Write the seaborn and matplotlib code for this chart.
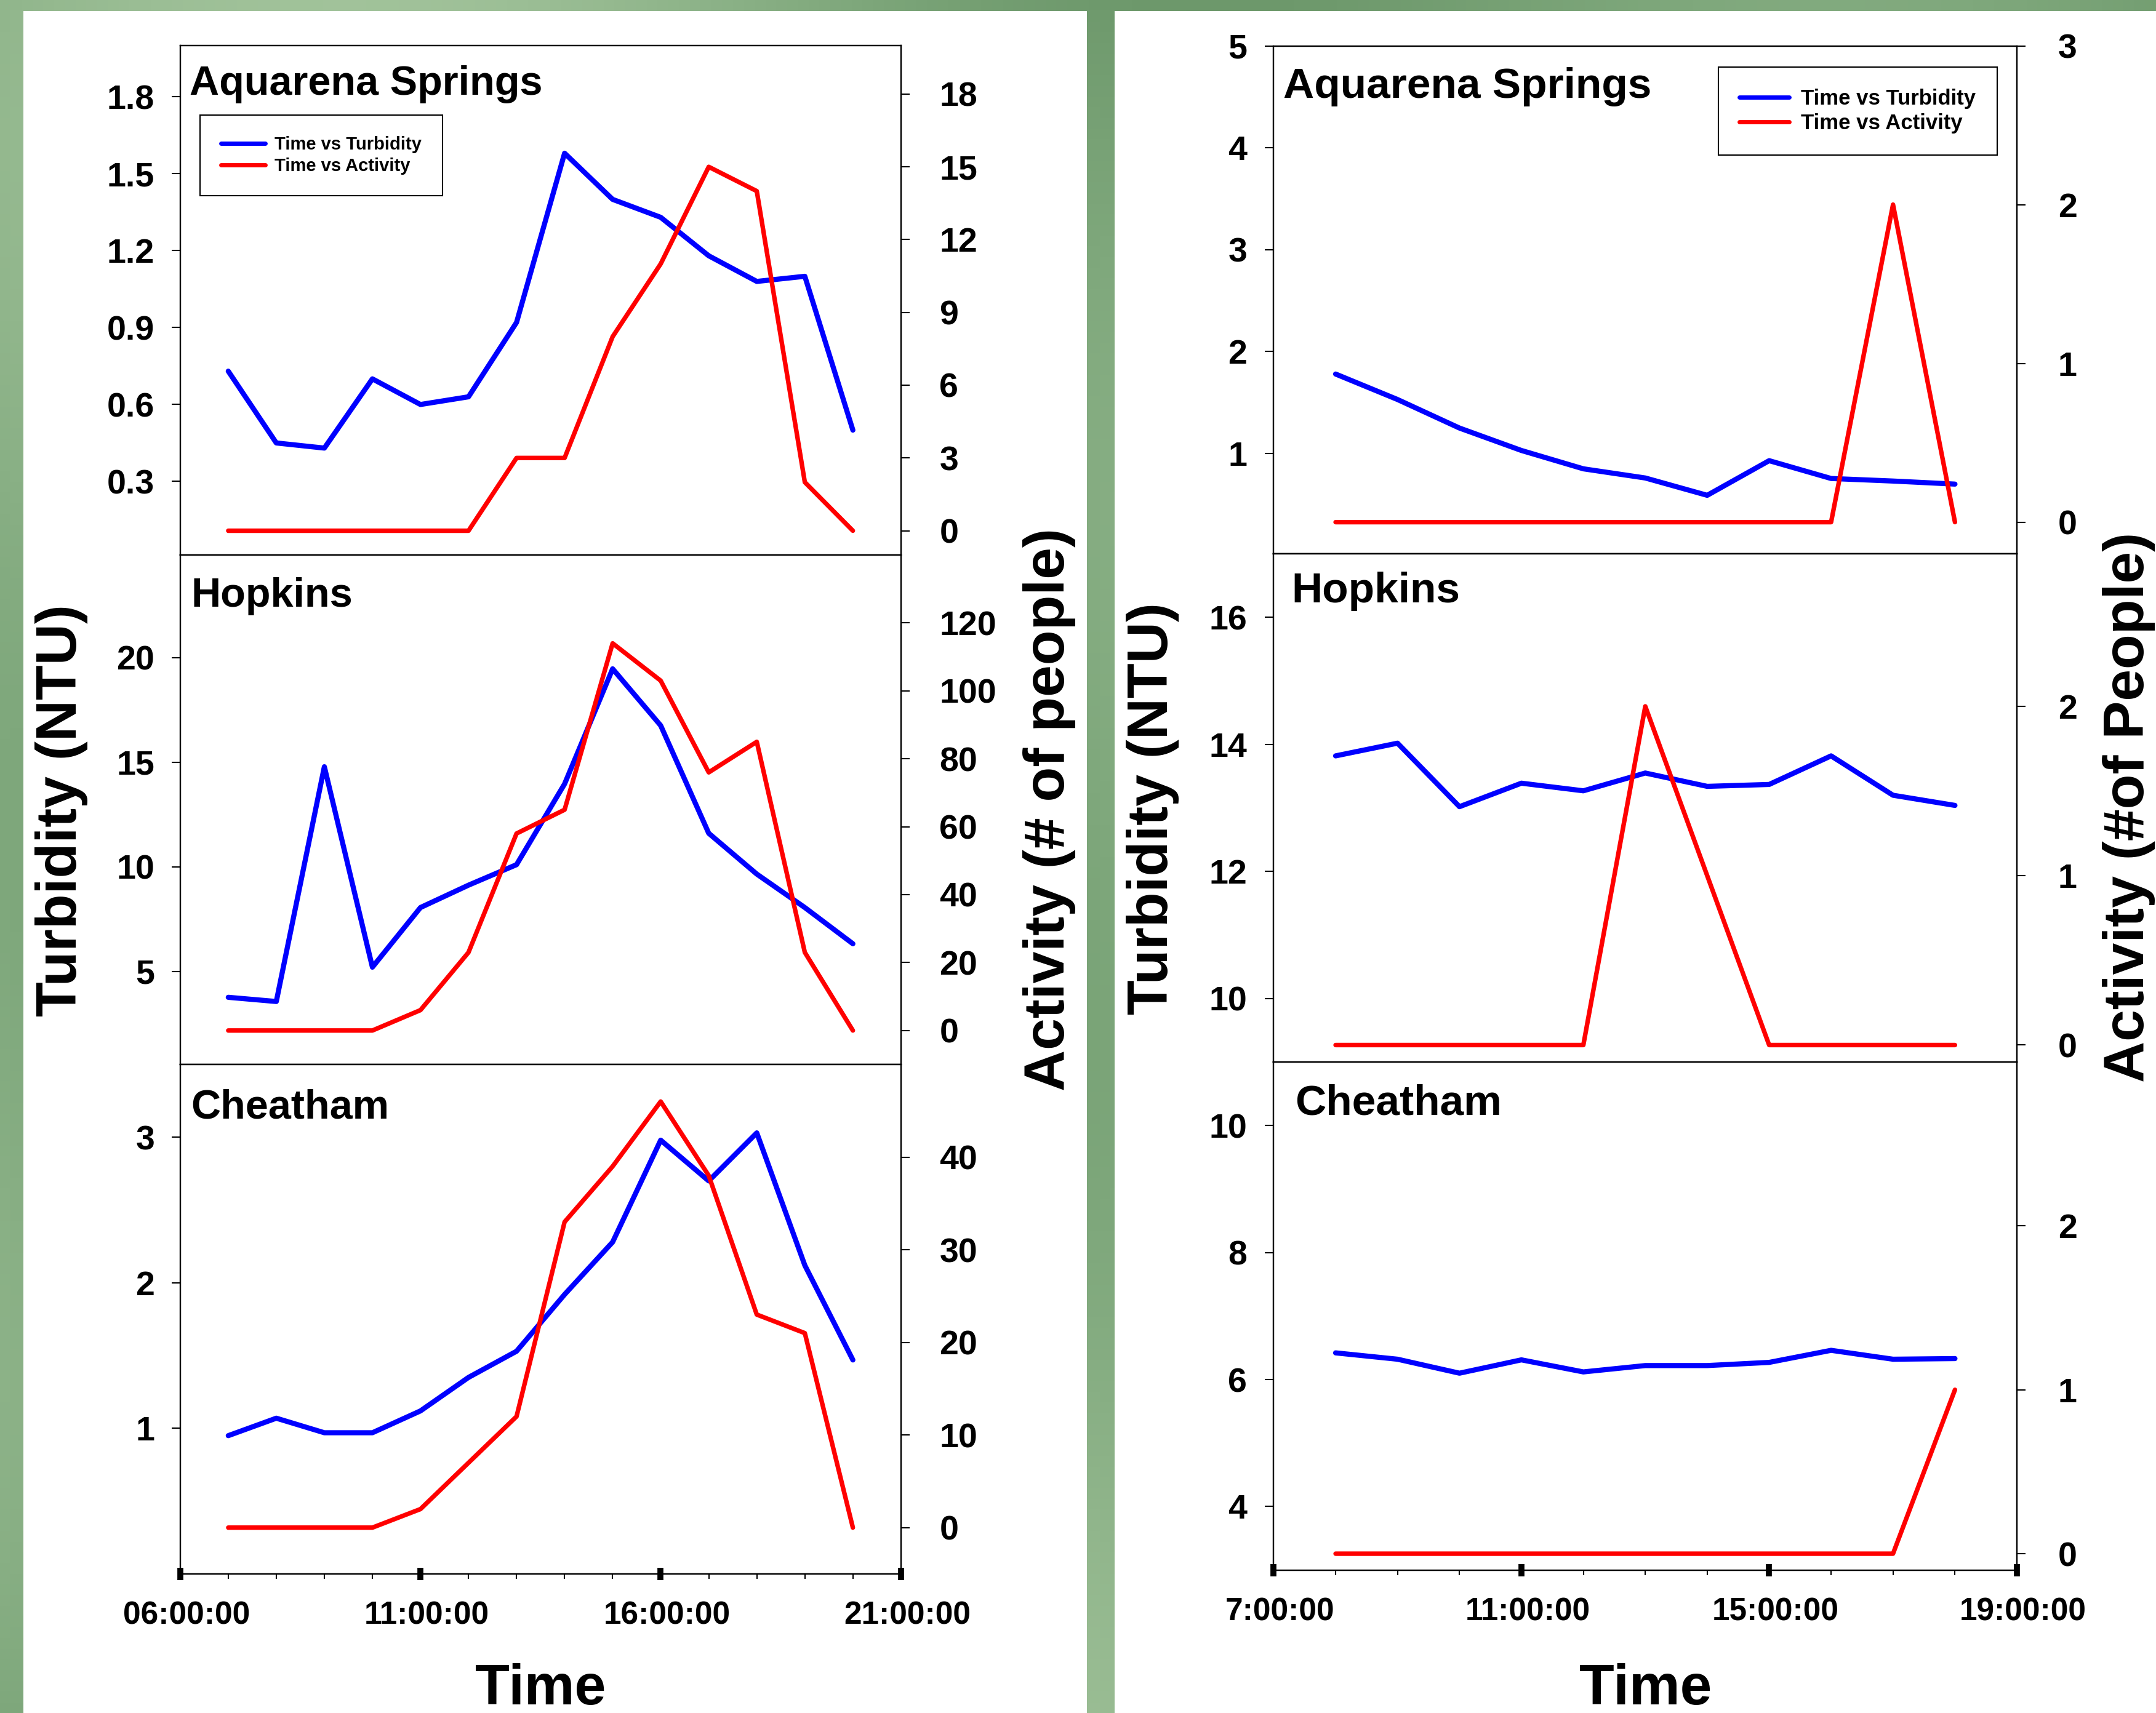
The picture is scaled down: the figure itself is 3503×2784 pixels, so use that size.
import numpy as np
import matplotlib
matplotlib.use("Agg")
import matplotlib.pyplot as plt
from matplotlib.patches import Rectangle
from matplotlib.transforms import ScaledTranslation
import seaborn as sns

# ---- data: first survey day (left), hourly 7:00-20:00
hours_a = [7, 8, 9, 10, 11, 12, 13, 14, 15, 16, 17, 18, 19, 20]
aq_turb_a = [0.73, 0.45, 0.43, 0.70, 0.60, 0.63, 0.92, 1.58, 1.40, 1.33, 1.18, 1.08, 1.10, 0.50]
aq_act_a = [0, 0, 0, 0, 0, 0, 3, 3, 8, 11, 15, 14, 2, 0]
hop_turb_a = [3.76, 3.56, 14.78, 5.2, 8.05, 9.12, 10.1, 13.96, 19.46, 16.75, 11.6, 9.65, 8.05, 6.32]
hop_act_a = [0, 0, 0, 0, 6, 23, 58, 65, 114, 103, 76, 85, 23, 0]
che_turb_a = [0.95, 1.07, 0.97, 0.97, 1.12, 1.35, 1.53, 1.92, 2.28, 2.98, 2.70, 3.03, 2.12, 1.47]
che_act_a = [0, 0, 0, 0, 2, 7, 12, 33, 39, 46, 38, 23, 21, 0]

# ---- data: second survey day (right), hourly 8:00-18:00
hours_b = [8, 9, 10, 11, 12, 13, 14, 15, 16, 17, 18]
aq_turb_b = [1.78, 1.53, 1.25, 1.03, 0.85, 0.76, 0.59, 0.93, 0.755, 0.73, 0.70]
aq_act_b = [0, 0, 0, 0, 0, 0, 0, 0, 0, 2, 0]
hop_turb_b = [13.82, 14.02, 13.02, 13.39, 13.27, 13.55, 13.34, 13.37, 13.82, 13.20, 13.04]
hop_act_b = [0, 0, 0, 0, 0, 2, 1, 0, 0, 0, 0]
che_turb_b = [6.42, 6.32, 6.10, 6.31, 6.12, 6.22, 6.22, 6.27, 6.46, 6.32, 6.33]
che_act_b = [0, 0, 0, 0, 0, 0, 0, 0, 0, 0, 1]

sites = ["Aquarena Springs", "Hopkins", "Cheatham"]
legend_labels = ["Time vs Turbidity", "Time vs Activity"]

# tick values / labels
turb_ticks_a = [[0.3, 0.6, 0.9, 1.2, 1.5, 1.8], [5, 10, 15, 20], [1, 2, 3]]
act_ticks_a = [[0, 3, 6, 9, 12, 15, 18], [0, 20, 40, 60, 80, 100, 120], [0, 10, 20, 30, 40]]
turb_ticks_b = [[1, 2, 3, 4, 5], [10, 12, 14, 16], [4, 6, 8, 10]]
act_ticks_b = [[0, 1, 2, 3], [0, 1, 2], [0, 1, 2]]
xmajor_a = [6, 11, 16, 21]
xlabels_a = ["06:00:00", "11:00:00", "16:00:00", "21:00:00"]
xmajor_b = [7, 11, 15, 19]
xlabels_b = ["7:00:00", "11:00:00", "15:00:00", "19:00:00"]

sns.set_style("ticks")
plt.rcParams["font.family"] = ["Liberation Sans", "DejaVu Sans"]
plt.rcParams["font.weight"] = "bold"
plt.rcParams["text.color"] = "black"
plt.rcParams["axes.labelcolor"] = "black"

W, H = 3503, 2784
fig = plt.figure(figsize=(W / 100, H / 100), dpi=100)
fig.patch.set_facecolor("#7fa67c")

# soft green backdrop
bg = fig.add_axes([0, 0, 1, 1], zorder=-10)
gx, gy = np.meshgrid(np.linspace(0, 1, 200), np.linspace(0, 1, 160))
shade = 0.5 + 0.25 * np.sin(gx * 9.0 + gy * 4.0) + 0.25 * np.cos(gy * 7.0 - gx * 3.0)
bg.imshow(shade, cmap=sns.blend_palette(["#5d8a5c", "#7fa87c", "#a3c49c"], as_cmap=True),
          aspect="auto", extent=[0, 1, 0, 1])
bg.set_axis_off()

# white panels
fig.patches.append(Rectangle((38 / W, 0), (1766 - 38) / W, 1 - 18 / H,
                             transform=fig.transFigure, facecolor="white", edgecolor="none", zorder=-5))
fig.patches.append(Rectangle((1811 / W, 0), 1.0, 1 - 18 / H,
                             transform=fig.transFigure, facecolor="white", edgecolor="none", zorder=-5))

BLUE = "#0000ff"
RED = "#ff0000"


def draw_column(box, hours, turb, act, turb_lims, act_lims, turb_ticks, act_ticks,
                turb_fmt, xlim, xmajor, xlabels, title_pos, title_size, legend_opts, lpad, rpad):
    left, right, bottom, top = box
    h = (top - bottom) / 3
    minor = [t for t in hours if t not in xmajor]
    for i in range(3):
        ax = fig.add_axes([left, top - (i + 1) * h, right - left, h])
        ax2 = ax.twinx()
        sns.lineplot(x=hours, y=turb[i], ax=ax, color=BLUE, linewidth=6, legend=False)
        sns.lineplot(x=hours, y=act[i], ax=ax2, color=RED, linewidth=5.3, legend=False)
        ax.set_xlim(xlim)
        ax.set_ylim(turb_lims[i])
        ax2.set_ylim(act_lims[i])
        ax.set_xlabel("")
        ax.set_ylabel("")
        ax2.set_ylabel("")

        ax.set_yticks(turb_ticks[i])
        ax.set_yticklabels([turb_fmt[i].format(v) for v in turb_ticks[i]])
        ax2.set_yticks(act_ticks[i])
        ax2.set_yticklabels([str(v) for v in act_ticks[i]])
        ax.tick_params(axis="y", direction="out", length=10, width=1.5, labelsize=40, pad=lpad,
                       colors="black")
        ax2.tick_params(axis="y", direction="out", length=10, width=1.5, labelsize=40, pad=rpad,
                        colors="black")
        for a in (ax, ax2):
            for s in a.spines.values():
                s.set_visible(True)
                s.set_color("black")
                s.set_linewidth(1.6)

        if i < 2:
            ax.set_xticks([])
            ax.tick_params(axis="x", bottom=False, labelbottom=False)
        else:
            ax.set_xticks(xmajor)
            ax.set_xticklabels(xlabels)
            ax.set_xticks(minor, minor=True)
            ax.tick_params(axis="x", which="major", direction="inout", length=15, width=7,
                           labelsize=37, pad=24, colors="black")
            ax.tick_params(axis="x", which="minor", direction="out", length=6, width=1.5,
                           colors="black")
            shift = ScaledTranslation(10 / 100, 0, fig.dpi_scale_trans)
            for lbl in ax.get_xticklabels():
                lbl.set_transform(lbl.get_transform() + shift)

        tx, ty = title_pos[i]
        ax.text(tx, ty, sites[i], transform=ax.transAxes, fontsize=title_size, fontweight="bold",
                color="black", ha="left", va="baseline")

        if i == 0:
            handles = [ax.get_lines()[0], ax2.get_lines()[0]]
            leg = ax2.legend(handles, legend_labels, loc="upper left",
                             bbox_to_anchor=legend_opts["anchor"], borderaxespad=0,
                             fontsize=legend_opts["size"], frameon=True, fancybox=False,
                             edgecolor="black", framealpha=1, labelcolor="black",
                             handlelength=legend_opts["hl"], handletextpad=legend_opts["htp"],
                             borderpad=legend_opts["bp"], labelspacing=legend_opts["ls"])
            leg.get_frame().set_linewidth(1.5)
            for ln in leg.get_lines():
                ln.set_linewidth(5)


draw_column(
    (292.8 / W, 1463.8 / W, 1 - 2558 / H, 1 - 74 / H), hours_a,
    [aq_turb_a, hop_turb_a, che_turb_a], [aq_act_a, hop_act_a, che_act_a],
    [(0.013, 2.0), (0.55, 24.9), (0.0, 3.5)], [(-1, 20), (-10, 140), (-5, 50)],
    turb_ticks_a, act_ticks_a, ["{:.1f}", "{:g}", "{:g}"],
    (6, 21), xmajor_a, xlabels_a,
    [(0.013, 0.903), (0.015, 0.899), (0.015, 0.894)], 48,
    {"anchor": (0.0275, 0.863), "size": 21, "hl": 2.5, "htp": 0.5, "bp": 1.15, "ls": 0.25},
    lpad=20, rpad=35,
)

draw_column(
    (2069.4 / W, 3277 / W, 1 - 2551.7 / H, 1 - 74.5 / H), hours_b,
    [aq_turb_b, hop_turb_b, che_turb_b], [aq_act_b, hop_act_b, che_act_b],
    [(0.015, 5.0), (9.0, 17.0), (3.0, 11.0)], [(-0.2, 3.0), (-0.1, 2.9), (-0.1, 3.0)],
    turb_ticks_b, act_ticks_b, ["{:g}", "{:g}", "{:g}"],
    (7, 19), xmajor_b, xlabels_b,
    [(0.0126, 0.898), (0.0243, 0.905), (0.0287, 0.896)], 50,
    {"anchor": (0.598, 0.958), "size": 25, "hl": 2.33, "htp": 0.55, "bp": 1.0, "ls": 0.2},
    lpad=21, rpad=38,
)

# axis titles
lab = dict(fontsize=67, fontweight="bold", color="black", ha="center", va="center", rotation=90)
fig.text(100 / W, 1 - 1317 / H, "Turbidity (NTU)", **lab)
fig.text(1705 / W, 1 - 1316 / H, "Activity (# of people)", **lab)
fig.text(1873 / W, 1 - 1314 / H, "Turbidity (NTU)", **lab)
fig.text(3459 / W, 1 - 1312 / H, "Activity (#of People)", **lab)
fig.text(878 / W, 14 / H, "Time", fontsize=66, fontweight="bold", color="black",
         ha="center", va="baseline")
fig.text(2674 / W, 14 / H, "Time", fontsize=67, fontweight="bold", color="black",
         ha="center", va="baseline")

fig.savefig("out.png", dpi=100, facecolor=fig.get_facecolor())
